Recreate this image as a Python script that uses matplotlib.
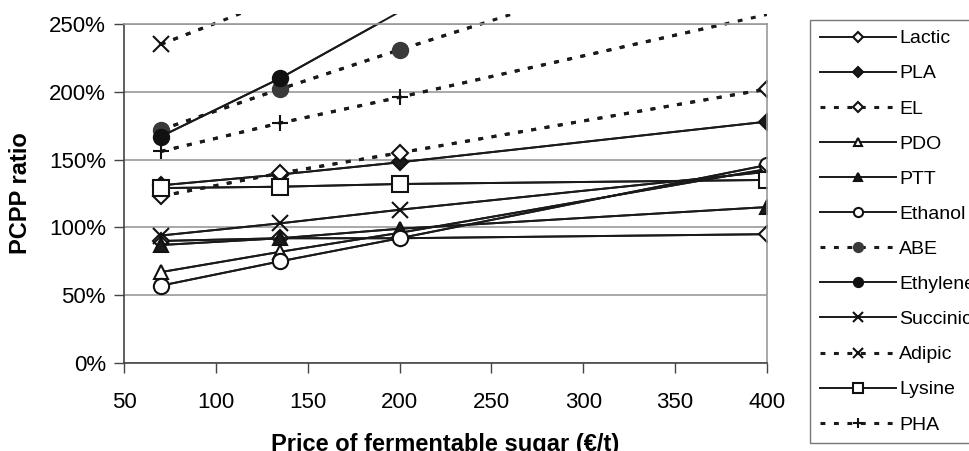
import matplotlib
matplotlib.use("Agg")
from matplotlib import pyplot as plt
from matplotlib.patches import Rectangle

plt.rcParams['font.family'] = ['Liberation Sans', 'DejaVu Sans']

sugar_price = [70, 135, 200, 400]

lactic = [90, 92, 92, 95]
pla = [131, 139, 148, 178]
el = [123, 140, 155, 202]
pdo = [67, 82, 96, 143]
ptt = [87, 92, 99, 115]
ethanol = [57, 75, 92, 146]
abe = [172, 202, 231, 317]
ethylene = [167, 210, 259, 390]
succinic = [94, 103, 113, 141]
adipic = [235, 269, 303, 410]
lysine = [129, 130, 132, 135]
pha = [156, 177, 196, 257]

# name, values, marker, face colour, dotted?
series = [
    ("Lactic", lactic, "D", "white", False),
    ("PLA", pla, "D", "#1a1a1a", False),
    ("EL", el, "D", "white", True),
    ("PDO", pdo, "^", "white", False),
    ("PTT", ptt, "^", "#1a1a1a", False),
    ("Ethanol", ethanol, "o", "white", False),
    ("ABE", abe, "o", "#3a3a3a", True),
    ("Ethylene", ethylene, "o", "#111111", False),
    ("Succinic", succinic, "x", "none", False),
    ("Adipic", adipic, "x", "none", True),
    ("Lysine", lysine, "s", "white", False),
    ("PHA", pha, "+", "none", True),
]

fig = plt.figure(figsize=(9.7, 4.51), dpi=100)
ax = fig.add_axes([124 / 970, 1 - 363 / 451, 643 / 970, 339 / 451])

# lines run a little above the plot area (markers don't), like in the original
clip = Rectangle((0, 0), 1, 1.03, transform=ax.transAxes, facecolor="none", edgecolor="none")
ax.add_patch(clip)

for name, vals, mk, fc, dotted in series:
    ms = {"D": 8, "^": 10, "o": 11, "x": 11, "s": 11, "+": 12}[mk]
    ec = "#3a3a3a" if name == "ABE" else "#111111"
    if dotted:
        ls, lw = (0, (1.6, 2.8)), 2.2
    else:
        ls, lw = "-", 1.4
    extra, = ax.plot(sugar_price, vals, linestyle=ls, linewidth=lw, color="#1a1a1a")
    extra.set_clip_path(clip)
    ax.plot(sugar_price, vals, linestyle=ls, linewidth=lw, color="#1a1a1a",
            marker=mk, markersize=ms, markerfacecolor=fc, markeredgecolor=ec,
            markeredgewidth=1.5, label=name)

ax.set_xlim(50, 400)
ax.set_ylim(0, 250)
ax.set_xticks(range(50, 401, 50))
ax.set_yticks(range(0, 251, 50))
ax.set_yticklabels([f"{v}%" for v in range(0, 251, 50)])
ax.grid(axis="y", color="#999999", linewidth=1.2)
ax.set_axisbelow(True)

for side in ["top", "right"]:
    ax.spines[side].set_color("#999999")
    ax.spines[side].set_linewidth(1.2)
for side in ["left", "bottom"]:
    ax.spines[side].set_color("#444444")
    ax.spines[side].set_linewidth(1.2)

ax.tick_params(axis="x", direction="out", length=7, width=1, color="#444444",
               labelsize=16, pad=14)
ax.tick_params(axis="y", direction="out", length=7, width=1, color="#444444",
               labelsize=16, pad=6)

ax.set_xlabel("Price of fermentable sugar (€/t)", fontsize=17, fontweight="bold", labelpad=14)
ax.set_ylabel("PCPP ratio", fontsize=17, fontweight="bold", labelpad=12)

leg = fig.legend(loc="upper left", bbox_to_anchor=(810 / 970, 1 - 20 / 451),
                 fontsize=14, handlelength=3.9, handletextpad=0.2, labelspacing=0.9,
                 borderpad=0.5, borderaxespad=0, markerscale=0.6, fancybox=False,
                 framealpha=1, edgecolor="#777777")
leg.get_frame().set_linewidth(1)

fig.savefig("out.png", dpi=100)
